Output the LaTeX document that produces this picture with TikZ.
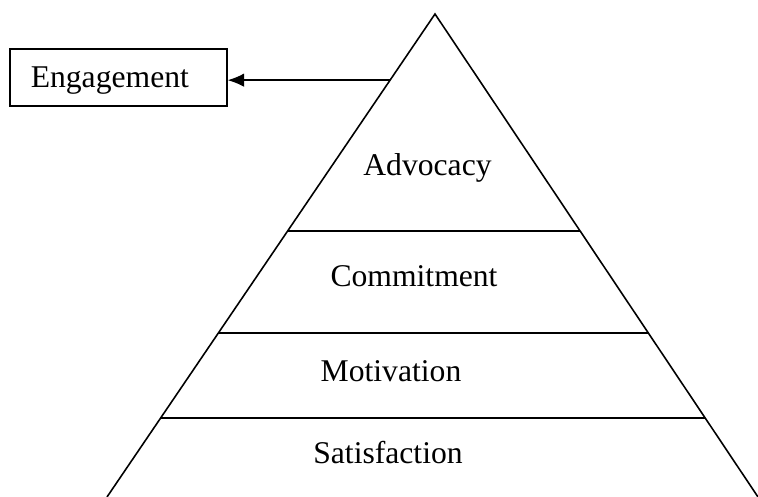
\documentclass[tikz,border=0pt]{standalone}
\usepackage{fontspec}
\setmainfont{Liberation Serif}
\usetikzlibrary{calc,arrows.meta}

\begin{document}
\begin{tikzpicture}[line width=0.9pt]
      \tikzset{
      level/.style={font=\fontsize{18}{21}\selectfont, anchor=base},
      tagbox/.style={draw, font=\fontsize{18}{21}\selectfont, text depth=0pt,
        inner xsep=0.42cm, text width=3.5cm, align=left, minimum height=1.14cm},
      }
      \useasboundingbox (0,0) rectangle (15.16,9.94);

      %pyramid
      \coordinate (apex) at (8.70,9.66);
      \coordinate (bl) at (2.14,0);
      \coordinate (br) at (15.16,0);
      \draw (bl) -- (apex) -- (br);

      %layer borders
      \draw ($(apex)!0.449!(bl)$) -- ($(apex)!0.449!(br)$);
      \draw ($(apex)!0.660!(bl)$) -- ($(apex)!0.660!(br)$);
      \draw ($(apex)!0.836!(bl)$) -- ($(apex)!0.836!(br)$);

      %layer names
      \node[level] (adv) at (8.55,6.42) {Advocacy};
      \node[level] (com) at (8.28,4.20) {Commitment};
      \node[level] (mot) at (7.82,2.30) {Motivation};
      \node[level] (sat) at (7.76,0.66) {Satisfaction};

      %engagement tag
      \node[tagbox, anchor=west] (eng) at (0.18,8.39) {Engagement};
      \coordinate (tip) at ($(apex)!0.137!(bl)$);
      \draw[-{Latex[length=0.33cm,width=0.27cm]}] (tip) -- (tip -| eng.east);
\end{tikzpicture}
\end{document}
